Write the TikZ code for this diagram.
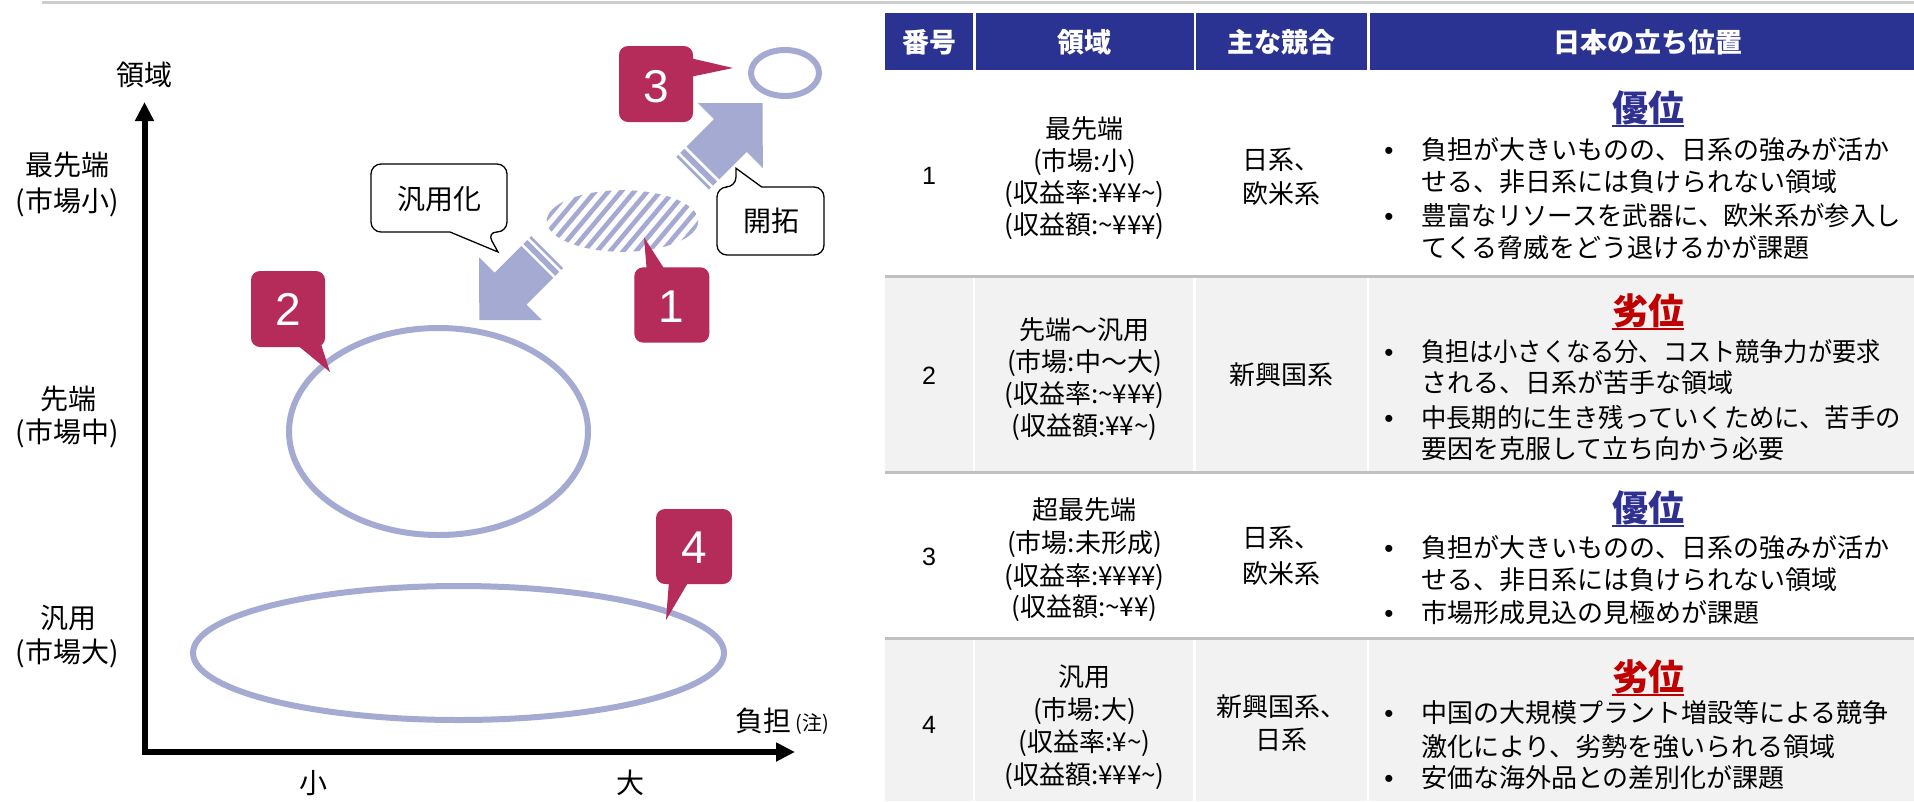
\documentclass[tikz,border=0pt]{standalone}
\usepackage{fontspec}
\usepackage{graphicx}
\setmainfont{Noto Sans CJK JP}
\newfontfamily\arialf{Liberation Sans}
\usetikzlibrary{arrows.meta}
\definecolor{lav}{RGB}{164,170,210}
\definecolor{crim}{RGB}{181,43,89}
\definecolor{hblue}{RGB}{42,51,146}
\definecolor{rowgray}{RGB}{242,242,242}
\definecolor{sepgray}{RGB}{192,192,192}
\definecolor{topgray}{RGB}{205,205,205}
\definecolor{ublue}{RGB}{46,49,146}
\definecolor{ured}{RGB}{192,0,0}
\tikzset{
  cjk/.style={inner sep=0pt, font=\fontsize{26}{30}\selectfont, text height=22.9pt, text depth=3.1pt},
  lab/.style={inner sep=0pt, font=\fontsize{28}{32}\selectfont, text height=24.6pt, text depth=3.4pt},
  note/.style={inner sep=0pt, font=\fontsize{20}{23}\selectfont, text height=17.6pt, text depth=2.4pt},
  hdr/.style={inner sep=0pt, text=white, font=\fontsize{27}{31}\selectfont\bfseries, text height=23.8pt, text depth=3.2pt},
  headu/.style={inner sep=0pt, font=\fontsize{36}{40}\selectfont\bfseries, text height=31.7pt, text depth=4.3pt},
  num/.style={inner sep=0pt, font=\arialf\fontsize{25}{29}\selectfont, text height=17.9pt, text depth=0pt},
  bnum/.style={inner sep=0pt, text=white, font=\arialf\fontsize{46}{50}\selectfont, text height=32.9pt, text depth=0pt},
  blt/.style={inner sep=0pt, anchor=base, font=\arialf\fontsize{26}{30}\selectfont},
  badge/.style={fill=crim, rounded corners=9pt},
  ring/.style={draw=lav, line width=6pt},
  callout/.style={draw=black, fill=white, line width=1.3pt, line join=miter},
  axis/.style={line width=6pt, line join=miter, {Triangle[length=19pt,width=18pt]}-{Triangle[length=19pt,width=18pt]}},
  seprow/.style={sepgray, line width=3pt},
  sepcol/.style={white, line width=2.5pt},
}
\newcommand{\blockarrow}{%
  \fill[lav] (0,0) -- (-45.6,45.9) -- (-45.6,23.2) -- (-84.6,23.2) -- (-84.6,-23.2) -- (-45.6,-23.2) -- (-45.6,-45.9) -- cycle;
  \fill[lav] (-87.5,-23.2) rectangle (-93.3,23.2);
  \fill[lav] (-96.2,-23.2) rectangle (-99.1,23.2);}
\newcommand{\sq}[2]{\scalebox{#1}[1]{#2}}
\begin{document}
\begin{tikzpicture}[x=1pt,y=-1pt]
\useasboundingbox (0,0) rectangle (1914,801);
\fill[white] (0,0) rectangle (1914,801);
% top rule
\draw[topgray, line width=3.5pt] (42,2.5) -- (1914,2.5);

% ================= CHART =================
\draw[axis] (144.5,102) -- (144.5,752) -- (795,752);
\node[lab] (ylab) at (144,75) {領域};
\node[lab] (y1a) at (67,165) {最先端};
\node[lab] (y1b) at (67,200.5) {(市場小)};
\node[lab] (y2a) at (68,398.5) {先端};
\node[lab] (y2b) at (67,432) {(市場中)};
\node[lab] (y3a) at (68,617.5) {汎用};
\node[lab] (y3b) at (67,651.5) {(市場大)};
\node[lab] (xsmall) at (313,783) {小};
\node[lab] (xlarge) at (630,783) {大};
\node[lab] (xlab) at (763.5,720.5) {負担};
\node[note] (xnote) at (812,722.5) {(注)};

% ellipses
\draw[ring] (438.5,431.5) ellipse [x radius=149.5, y radius=103.5];
\draw[ring] (458.5,653) ellipse [x radius=265.5, y radius=67];
\draw[ring] (785,73) ellipse [x radius=34, y radius=23];
% hatched ellipse
\begin{scope}
  \clip (622.5,221) ellipse [x radius=75.8, y radius=30.8];
  \foreach \k in {-9,...,9}
    \draw[lav, line width=4.6pt] (622.5+13*\k-38.6,267) -- ++(77.2,-92);
\end{scope}

% block arrows
\begin{scope}[shift={(762.6,103.2)}, rotate=45]
  \blockarrow
\end{scope}
\begin{scope}[shift={(479.3,320)}, rotate=225, scale=0.97]
  \blockarrow
\end{scope}

% callouts
\filldraw[callout] (450,232) [rounded corners=10pt] -- (371,232) -- (371,164) -- (507,164) -- (507,232) -- (487,232) [sharp corners] -- (498,252) -- cycle;
\node[lab] (cgen) at (439,199) {汎用化};
\filldraw[callout] (761.7,187) [rounded corners=10pt] -- (824,187) -- (824,255) -- (717,255) -- (717,187) -- (736,187) [sharp corners] -- (736,168.3) -- cycle;
\node[lab] (cdev) at (771,221) {開拓};

% badges
\fill[badge] (619,46) rectangle (693,122);
\fill[crim] (690,58) -- (733,68) -- (690,77) -- cycle;
\node[bnum] (b3) at (656,86) {3};

\fill[badge] (634.3,267.3) rectangle (709.3,342.7);
\fill[crim] (646.7,270) -- (644,237.3) -- (665,270) -- cycle;
\node[bnum] (b1) at (671,306) {1};

\fill[badge] (251,271) rectangle (325,347);
\fill[crim] (296,344) -- (330,372) -- (321,344) -- cycle;
\node[bnum] (b2) at (288,309) {2};

\fill[badge] (656,509) rectangle (732,584);
\fill[crim] (669,581) -- (666,620) -- (689,581) -- cycle;
\node[bnum] (b4) at (694,547) {4};

% ================= TABLE =================
\fill[hblue] (885,13) rectangle (973,70);
\fill[hblue] (975.5,13) rectangle (1193.5,70);
\fill[hblue] (1196,13) rectangle (1367,70);
\fill[hblue] (1369.5,13) rectangle (1914,70);
\node[hdr] (h1) at (929,42) {番号};
\node[hdr] (h2) at (1084.5,42) {領域};
\node[hdr] (h3) at (1281.5,42) {主な競合};
\node[hdr] (h4) at (1648,42) {日本の立ち位置};

\fill[rowgray] (885,276) rectangle (1914,472);
\fill[rowgray] (885,638) rectangle (1914,801);
\foreach \xx in {974.2,1194.7,1368.2} {
  \draw[sepcol] (\xx,276) -- (\xx,472);
  \draw[sepcol] (\xx,638) -- (\xx,801);
}
\draw[seprow] (885,276) -- (1914,276);
\draw[seprow] (885,472) -- (1914,472);
\draw[seprow] (885,638) -- (1914,638);

% row 1
\node[num] (n1) at (929,176) {1};
\foreach \yy/\tx [count=\i] in {129/最先端, 161/{(市場:小)}, 193/{(収益率:¥¥¥\textasciitilde{})}, 225/{(収益額:\textasciitilde{}¥¥¥)}}
  \node[cjk] (ra\i) at (1084.5,\yy) {\tx};
\node[cjk] (rb1) at (1281.5,160) {日系、};
\node[cjk] (rb2) at (1281.5,194) {欧米系};
\node[headu, text=ublue] (u1) at (1648,108) {優位};
\draw[ublue, line width=2.5pt] (u1.south west) -- (u1.south east);
\foreach \yy/\tx [count=\i] in {149.2/負担が大きいものの、日系の強みが活か, 181.7/せる、非日系には負けられない領域, 215.8/{\sq{0.975}{豊富なリソースを武器に、欧米系が参入し}}, 247.5/てくる脅威をどう退けるかが課題}
  \node[cjk, anchor=west] (rc\i) at (1421,\yy) {\tx};
\node[blt] (bl1) at (1389,159.1) {•};
\node[blt] (bl2) at (1389,225.7) {•};

% row 2
\node[num] (n2) at (929,376) {2};
\foreach \yy/\tx [count=\i] in {330/先端～汎用, 362/{(市場:中～大)}, 394/{(収益率:\textasciitilde{}¥¥¥)}, 426/{(収益額:¥¥\textasciitilde{})}}
  \node[cjk] (sa\i) at (1084.5,\yy) {\tx};
\node[cjk] (sb1) at (1281.5,375) {新興国系};
\node[headu, text=ured] (u2) at (1648,311) {劣位};
\draw[ured, line width=2.5pt] (u2.south west) -- (u2.south east);
\foreach \yy/\tx [count=\i] in {352/{\sq{0.93}{負担は小さくなる分、コスト競争力が要求}}, 383/される、日系が苦手な領域, 418/{\sq{0.975}{中長期的に生き残っていくために、苦手の}}, 449/要因を克服して立ち向かう必要}
  \node[cjk, anchor=west] (sc\i) at (1421,\yy) {\tx};
\node[blt] (bl3) at (1389,361.9) {•};
\node[blt] (bl4) at (1389,427.9) {•};

% row 3
\node[num] (n3) at (929,557) {3};
\foreach \yy/\tx [count=\i] in {510/超最先端, 543/{(市場:未形成)}, 576/{(収益率:¥¥¥¥)}, 607/{(収益額:\textasciitilde{}¥¥)}}
  \node[cjk] (ta\i) at (1084.5,\yy) {\tx};
\node[cjk] (tb1) at (1281.5,538) {日系、};
\node[cjk] (tb2) at (1281.5,574) {欧米系};
\node[headu, text=ublue] (u3) at (1648,508) {優位};
\draw[ublue, line width=2.5pt] (u3.south west) -- (u3.south east);
\foreach \yy/\tx [count=\i] in {548/負担が大きいものの、日系の強みが活か, 580/せる、非日系には負けられない領域, 613/市場形成見込の見極めが課題}
  \node[cjk, anchor=west] (tc\i) at (1421,\yy) {\tx};
\node[blt] (bl5) at (1389,557.9) {•};
\node[blt] (bl6) at (1389,622.9) {•};

% row 4
\node[num] (n4) at (929,725) {4};
\foreach \yy/\tx [count=\i] in {677/汎用, 710/{(市場:大)}, 742/{(収益率:¥\textasciitilde{})}, 775/{(収益額:¥¥¥\textasciitilde{})}}
  \node[cjk] (qa\i) at (1084.5,\yy) {\tx};
\node[cjk] (qb1) at (1281.5,707) {新興国系、};
\node[cjk] (qb2) at (1281.5,740) {日系};
\node[headu, text=ured] (u4) at (1648,677) {劣位};
\draw[ured, line width=2.5pt] (u4.south west) -- (u4.south east);
\foreach \yy/\tx [count=\i] in {713/中国の大規模プラント増設等による競争, 747/激化により、劣勢を強いられる領域, 778/安価な海外品との差別化が課題}
  \node[cjk, anchor=west] (qc\i) at (1421,\yy) {\tx};
\node[blt] (bl7) at (1389,722.9) {•};
\node[blt] (bl8) at (1389,787.9) {•};
\end{tikzpicture}
\end{document}
